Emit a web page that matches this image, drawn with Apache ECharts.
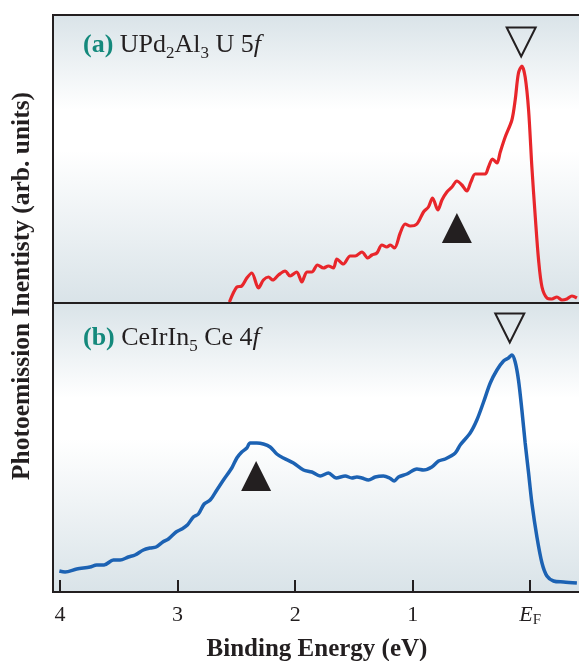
<!DOCTYPE html>
<html><head><meta charset="utf-8">
<script src="https://cdn.jsdelivr.net/npm/echarts@6/dist/echarts.min.js"></script>
<style>html,body{margin:0;padding:0;background:#fff}#c{width:579px;height:661px}</style>
</head><body><div id="c"></div>
<script>
// Binding energy (eV) and intensity (arb. units) for panel (a) UPd2Al3 U 5f
const energyA = [2.559,2.496,2.454,2.411,2.369,2.312,2.270,2.227,2.190,2.142,2.085,2.043,1.986,1.943,1.900,1.858,1.810,1.759,1.717,1.674,1.645,1.589,1.532,1.489,1.432,1.381,1.347,1.305,1.262,1.220,1.191,1.155,1.106,1.064,1.021,0.964,0.908,0.866,0.831,0.786,0.751,0.709,0.666,0.624,0.581,0.539,0.505,0.468,0.426,0.383,0.355,0.321,0.283,0.255,0.213,0.156,0.128,0.100,0.071,0.043,0.014,-0.014,-0.043,-0.071,-0.100,-0.142,-0.185,-0.227,-0.270,-0.312,-0.355,-0.397];
const intensityA = [1,16,17,25,30,15,23,26,23,28,32,27,31,21,31,31,38,35,37,35,44,39,47,47,51,45,48,50,58,56,58,55,70,79,77,79,91,96,105,93,103,111,116,122,118,112,121,129,129,129,136,144,140,151,166,183,203,230,237,226,193,136,86,43,16,5,4,6,3,4,7,5];
// Panel (b) CeIrIn5 Ce 4f
const energyB = [4.006,3.957,3.858,3.745,3.688,3.626,3.546,3.489,3.419,3.362,3.291,3.234,3.183,3.126,3.078,3.013,2.964,2.917,2.866,2.823,2.774,2.723,2.666,2.610,2.539,2.496,2.454,2.411,2.383,2.326,2.270,2.213,2.156,2.100,2.014,1.929,1.858,1.787,1.717,1.651,1.574,1.517,1.475,1.432,1.376,1.319,1.249,1.197,1.157,1.121,1.049,0.964,0.908,0.837,0.780,0.723,0.638,0.596,0.511,0.454,0.397,0.340,0.283,0.227,0.185,0.156,0.128,0.100,0.071,0.043,0.014,-0.014,-0.057,-0.100,-0.142,-0.198,-0.283,-0.397];
const intensityB = [21,20,23,25,27,27,32,32,35,37,42,44,45,50,53,60,63,67,75,78,88,92,102,112,124,134,140,144,149,149,148,145,138,134,129,122,120,116,119,114,116,114,115,114,112,115,116,114,111,115,118,123,122,125,131,133,139,147,159,172,190,209,222,231,234,237,230,212,182,149,119,89,55,29,16,11,10,9];
// Triangle annotations [energy, intensity]
const openTriA = [0.077, 261];
const fillTriA = [0.624, 75];
const openTriB = [0.174, 264];
const fillTriB = [2.332, 116];
// Tick values and labels
const tickValues = [0, 1, 2, 3, 4];
const tickLabels = {0: '{e|E}{s|F}', 1: '{d|1}', 2: '{d|2}', 3: '{d|3}', 4: '{d|4}'};

const SERIF = '"Liberation Serif", "DejaVu Serif", serif';
const INK = '#231f20';
const TEAL = '#14897c';
const zipPts = (xs, ys) => xs.map((x, i) => [x, ys[i]]);
const bg = () => new echarts.graphic.LinearGradient(0, 0, 0, 1, [
  {offset: 0, color: '#d9e3e8'},
  {offset: 0.33, color: '#ffffff'},
  {offset: 0.47, color: '#ffffff'},
  {offset: 1, color: '#d9e3e8'}
]);
const openTri = c => ({coord: c, symbol: 'triangle', symbolSize: [29, 29], symbolRotate: 180,
  itemStyle: {color: 'rgba(0,0,0,0)', borderColor: INK, borderWidth: 2}});
const fillTri = c => ({coord: c, symbol: 'triangle', symbolSize: [30, 30],
  itemStyle: {color: INK}});
const labelRich = {
  t: {fontFamily: SERIF, fontWeight: 'bold', fontSize: 26, lineHeight: 33, fill: TEAL},
  n: {fontFamily: SERIF, fontSize: 26, lineHeight: 33, fill: INK},
  i: {fontFamily: SERIF, fontStyle: 'italic', fontSize: 26, lineHeight: 33, fill: INK},
  b: {fontFamily: SERIF, fontSize: 17, lineHeight: 17, padding: [16, 0, 0, 0], fill: INK}
};

const chart = echarts.init(document.getElementById('c'), null, {renderer: 'canvas'});
const xBase = {type: 'value', min: -0.5, max: 4.06, inverse: true, splitLine: {show: false}};
chart.setOption({
  animation: false,
  backgroundColor: '#ffffff',
  grid: [
    {left: 53, top: 15, width: 536, height: 288, show: true, borderWidth: 2, borderColor: INK, backgroundColor: bg(), outerBoundsMode: 'none', containLabel: false},
    {left: 53, top: 303, width: 536, height: 289, show: true, borderWidth: 2, borderColor: INK, backgroundColor: bg(), outerBoundsMode: 'none', containLabel: false}
  ],
  xAxis: [
    Object.assign({}, xBase, {gridIndex: 0, axisLine: {show: false}, axisTick: {show: false}, axisLabel: {show: false}}),
    Object.assign({}, xBase, {gridIndex: 1,
      axisLine: {show: true, onZero: false, lineStyle: {color: INK, width: 2}},
      axisTick: {show: true, inside: true, length: 12, customValues: tickValues, lineStyle: {color: INK, width: 2}},
      axisLabel: {show: true, customValues: tickValues, margin: 9, color: INK, fontFamily: SERIF, fontSize: 22,
        formatter: v => tickLabels[Math.round(v)],
        rich: {d: {fontFamily: SERIF, fontSize: 22, lineHeight: 28, color: INK},
               e: {fontFamily: SERIF, fontStyle: 'italic', fontSize: 22, lineHeight: 28, color: INK},
               s: {fontFamily: SERIF, fontSize: 15, lineHeight: 15, color: INK, padding: [12, 0, 1, 0]}}}
    })
  ],
  yAxis: [
    {type: 'value', gridIndex: 0, min: 0, max: 288, show: false, splitLine: {show: false}},
    {type: 'value', gridIndex: 1, min: 0, max: 289, show: false, splitLine: {show: false}}
  ],
  series: [
    {type: 'line', xAxisIndex: 0, yAxisIndex: 0, data: zipPts(energyA, intensityA), showSymbol: false, smooth: 0.3,
      lineStyle: {color: '#e8262b', width: 3.2}, z: 3,
      markPoint: {label: {show: false}, data: [openTri(openTriA), fillTri(fillTriA)]}},
    {type: 'line', xAxisIndex: 1, yAxisIndex: 1, data: zipPts(energyB, intensityB), showSymbol: false, smooth: 0.3,
      lineStyle: {color: '#1c62b3', width: 3.5}, z: 3,
      markPoint: {label: {show: false}, data: [openTri(openTriB), fillTri(fillTriB)]}}
  ],
  graphic: [
    {type: 'text', left: 83, top: 29, z: 10, style: {
      text: '{t|(a) }{n|UPd}{b|2}{n|Al}{b|3}{n| U 5}{i|f}', rich: labelRich}},
    {type: 'text', left: 83, top: 322, z: 10, style: {
      text: '{t|(b) }{n|CeIrIn}{b|5}{n| Ce 4}{i|f}', rich: labelRich}},
    {type: 'text', x: 22, y: 286, rotation: Math.PI / 2, z: 10, style: {
      text: 'Photoemission Inentisty (arb. units)', fontFamily: SERIF, fontWeight: 'bold', fontSize: 25.5,
      fill: INK, align: 'center', verticalAlign: 'middle'}},
    {type: 'text', x: 317, y: 650, z: 10, style: {
      text: 'Binding Energy (eV)', fontFamily: SERIF, fontWeight: 'bold', fontSize: 25,
      fill: INK, align: 'center', verticalAlign: 'middle'}}
  ]
});
</script></body></html>
